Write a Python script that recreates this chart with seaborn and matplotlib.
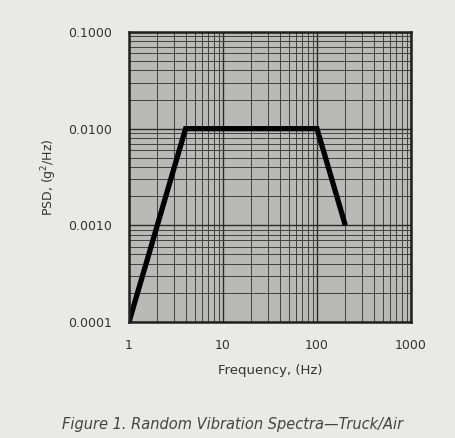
import matplotlib
matplotlib.use("Agg")
import matplotlib.pyplot as plt
import seaborn as sns
import pandas as pd
from matplotlib.ticker import FixedLocator, FixedFormatter, LogLocator, NullFormatter

freq = [1, 4, 100, 200]
psd = [0.0001, 0.01, 0.01, 0.001]
xticks = [1, 10, 100, 1000]
xticklabels = ["1", "10", "100", "1000"]
yticks = [0.0001, 0.001, 0.01, 0.1]
yticklabels = ["0.0001", "0.0010", "0.0100", "0.1000"]

sns.set_theme(style="white")
plt.rcParams['font.family'] = ['DejaVu Sans']

df = pd.DataFrame({"freq": freq, "psd": psd})

fig = plt.figure(figsize=(4.56, 4.38), dpi=100, facecolor="#e9e9e7")
ax = fig.add_axes([129/456, 1 - 322/438, (411-129)/456, (322-32)/438])
ax.set_facecolor("#b9b9b7")

ax.set_xscale("log")
ax.set_yscale("log")
ax.set_xlim(1, 1000)
ax.set_ylim(0.0001, 0.1)

ax.xaxis.set_major_locator(FixedLocator(xticks))
ax.xaxis.set_major_formatter(FixedFormatter(xticklabels))
ax.yaxis.set_major_locator(FixedLocator(yticks))
ax.yaxis.set_major_formatter(FixedFormatter(yticklabels))
ax.xaxis.set_minor_locator(LogLocator(base=10, subs=range(2, 10)))
ax.yaxis.set_minor_locator(LogLocator(base=10, subs=range(2, 10)))
ax.xaxis.set_minor_formatter(NullFormatter())
ax.yaxis.set_minor_formatter(NullFormatter())

ax.grid(which="major", color="#2a2a2a", linewidth=1.0)
ax.grid(which="minor", color="#404040", linewidth=0.7)
ax.set_axisbelow(True)

sns.lineplot(data=df, x="freq", y="psd", ax=ax, color="black", linewidth=3.8,
             solid_joinstyle="miter", solid_capstyle="butt")

for s in ax.spines.values():
    s.set_color("#202020")
    s.set_linewidth(1.8)

ax.tick_params(axis="x", which="both", length=0, labelsize=9, colors="#333333", pad=12)
ax.tick_params(axis="y", which="both", length=0, labelsize=9, colors="#333333", pad=12)
ax.set_xlabel("Frequency, (Hz)", fontsize=9.5, color="#333333", labelpad=9)
ax.set_ylabel("PSD, (g$^2$/Hz)", fontsize=9, color="#333333", labelpad=7)

fig.text(0.51, 1 - 425/438, "Figure 1. Random Vibration Spectra\u2014Truck/Air",
         ha="center", va="center", fontsize=10.5, style="italic", color="#444444")

fig.savefig("out.png", dpi=100, facecolor=fig.get_facecolor())
